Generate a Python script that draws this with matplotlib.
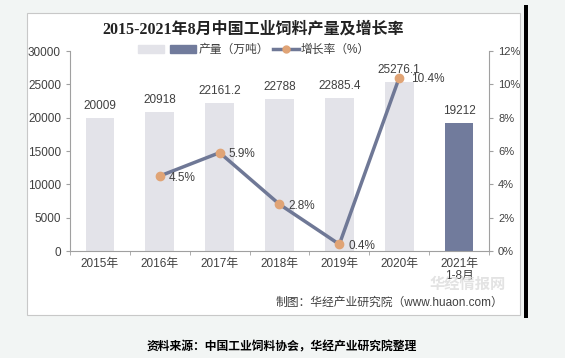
import matplotlib.pyplot as plt
import matplotlib.patches as mpatches
from matplotlib.lines import Line2D
import numpy as np

plt.rcParams['font.family'] = ['Liberation Sans', 'Noto Sans CJK SC', 'DejaVu Sans']

years = ['2015年', '2016年', '2017年', '2018年', '2019年', '2020年', '2021年\n1-8月']
output = [20009, 20918, 22161.2, 22788, 22885.4, 25276.1, 19212]
output_labels = ['20009', '20918', '22161.2', '22788', '22885.4', '25276.1', '19212']
growth_idx = [1, 2, 3, 4, 5]
growth = [4.5, 5.9, 2.8, 0.4, 10.4]

light_bar = '#e3e3e9'
dark_bar = '#717b9c'
line_col = '#6f7896'
marker_col = '#e0a476'
text_col = '#404040'

fig = plt.figure(figsize=(5.65, 3.58), dpi=100)
fig.patch.set_facecolor('#f2f5f4')

# white chart panel with thin border
fig.add_artist(mpatches.Rectangle((27 / 565, 1 - 315 / 358), (520 - 27) / 565, (315 - 13) / 358,
                                  transform=fig.transFigure, facecolor='white',
                                  edgecolor='#c8c8c8', linewidth=0.8, zorder=0))
# dark bar on the right
fig.add_artist(mpatches.Rectangle((524 / 565, 1 - 318 / 358), 4 / 565, (318 - 5) / 358,
                                  transform=fig.transFigure, facecolor='black',
                                  edgecolor='none', zorder=0))

ax = fig.add_axes([70 / 565, 1 - 251 / 358, (489 - 70) / 565, 200 / 358])
ax.set_facecolor('none')
x = np.arange(len(years))
colors = [light_bar] * (len(years) - 1) + [dark_bar]
bars = ax.bar(x, output, width=0.48, color=colors, zorder=1)
ax.set_xlim(-0.5, len(years) - 0.5)
ax.set_ylim(0, 30000)
ax.set_yticks(np.arange(0, 30001, 5000))
ax.set_xticks(x)
ax.set_xticklabels(years, fontsize=8.5, color=text_col, linespacing=0.95)
ax.set_xticks(np.arange(-0.5, len(years), 1), minor=True)
ax.tick_params(axis='x', which='major', length=0, pad=5)
ax.tick_params(axis='x', which='minor', length=3, color='#a0a0a0')
ax.tick_params(axis='y', labelsize=8.5, labelcolor=text_col, length=3, color='#a0a0a0')
for s in ['top', 'right']:
    ax.spines[s].set_visible(False)
for s in ['left', 'bottom']:
    ax.spines[s].set_color('#a0a0a0')

for b, lab in zip(bars, output_labels):
    ax.text(b.get_x() + b.get_width() / 2, b.get_height() + 900, lab,
            ha='center', va='bottom', fontsize=8.5, color=text_col)

ax2 = ax.twinx()
ax2.set_ylim(0, 12)
ax2.set_yticks(np.arange(0, 13, 2))
ax2.set_yticklabels([f'{v}%' for v in range(0, 13, 2)])
ax2.tick_params(axis='y', labelsize=8, labelcolor=text_col, length=3, color='#a0a0a0')
for s in ['top', 'left', 'bottom']:
    ax2.spines[s].set_visible(False)
ax2.spines['right'].set_color('#a0a0a0')
ax2.plot(growth_idx, growth, color=line_col, linewidth=2.5, marker='o', markersize=6,
         markerfacecolor=marker_col, markeredgecolor=marker_col, zorder=3)
for i, g in zip(growth_idx, growth):
    dx = 0.2 if i == 5 else 0.15
    ax2.text(i + dx, g - 0.1, f'{g}%', ha='left', va='center', fontsize=8.5, color=text_col)

# legend
handles = [mpatches.Patch(color=light_bar), mpatches.Patch(color=dark_bar),
           Line2D([0], [0], color=line_col, linewidth=2.5, marker='o', markersize=5,
                  markerfacecolor=marker_col, markeredgecolor=marker_col)]
fig.legend(handles, ['', '产量（万吨）', '增长率（%）'], loc='center', bbox_to_anchor=(0.45, 1 - 50 / 358),
           ncol=3, frameon=False, fontsize=8.5, handlelength=2.2, handletextpad=0.2,
           columnspacing=0.3, labelcolor=text_col)

fig.text(253 / 565, 1 - 30 / 358, '2015-2021年8月中国工业饲料产量及增长率', ha='center', va='center',
         fontsize=11.5, fontweight='bold', color='#222222',
         family=['Liberation Serif', 'Noto Sans CJK SC'])
fig.text(468 / 565, 1 - 285 / 358, '华经情报网', ha='center', va='center', fontsize=11,
         fontweight='bold', color='#dcdcdc', alpha=0.8, zorder=0)
fig.text(503 / 565, 1 - 303 / 358, '制图：华经产业研究院（www.huaon.com）', ha='right', va='center',
         fontsize=8.5, color=text_col)
fig.text(282 / 565, 1 - 347 / 358, '资料来源：中国工业饲料协会，华经产业研究院整理', ha='center', va='center',
         fontsize=8.5, fontweight='bold', color='black')

fig.savefig('out.png', dpi=100, facecolor=fig.get_facecolor())
